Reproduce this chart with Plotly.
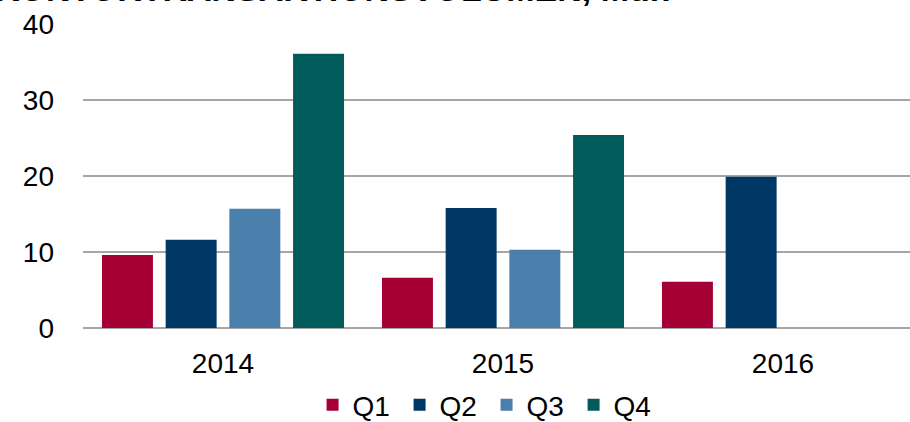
import plotly.graph_objects as go

years = ["2014", "2015", "2016"]
quarters = ["Q1", "Q2", "Q3", "Q4"]
q1 = [9.6, 6.6, 6.1]
q2 = [11.6, 15.8, 19.9]
q3 = [15.7, 10.3, None]
q4 = [36.1, 25.4, None]
colors = ["#A50034", "#003865", "#4A7EAB", "#005B5A"]
title_text = "KONTORTRANSAKTIONSVOLUMEN, Mdr."

fig = go.Figure()
for name, vals, c in zip(quarters, [q1, q2, q3, q4], colors):
    fig.add_trace(go.Bar(x=years, y=vals, name=name, marker=dict(color=c, line=dict(width=0))))

fig.update_layout(
    width=910, height=422,
    margin=dict(l=83, r=0, t=24, b=94, autoexpand=False),
    paper_bgcolor="white", plot_bgcolor="white",
    barmode="group", bargap=0.09, bargroupgap=0.2,
    font=dict(family="Liberation Sans, Arial, sans-serif", size=28, color="#000000"),
    showlegend=True,
    legend=dict(orientation="h", x=0.488, xanchor="center", xref="paper",
                y=1 - 405/422, yanchor="middle", yref="container",
                entrywidth=42, entrywidthmode="pixels",
                font=dict(size=28), traceorder="normal"),
    xaxis=dict(range=[-0.5, 2.4536], showgrid=False, ticks="", showline=False,
               automargin=False, ticklabelstandoff=16, tickfont=dict(size=28)),
    yaxis=dict(range=[0, 40], tickvals=[0, 10, 20, 30, 40], showgrid=True,
               gridcolor="#A6A6A6", gridwidth=2, zeroline=True, zerolinecolor="#A6A6A6",
               zerolinewidth=2, showline=False, ticks="", ticklabelstandoff=28,
               automargin=False, tickfont=dict(size=28)),
    annotations=[dict(text="<b>" + title_text + "</b>", xref="paper", yref="paper",
                      x=-90/827, xanchor="left", y=1 + 14/304, yanchor="bottom",
                      showarrow=False, font=dict(size=34, color="#000000"))],
)

fig.write_html("out.html", config={"displayModeBar": False},
               post_script="document.body.style.margin='0';")
